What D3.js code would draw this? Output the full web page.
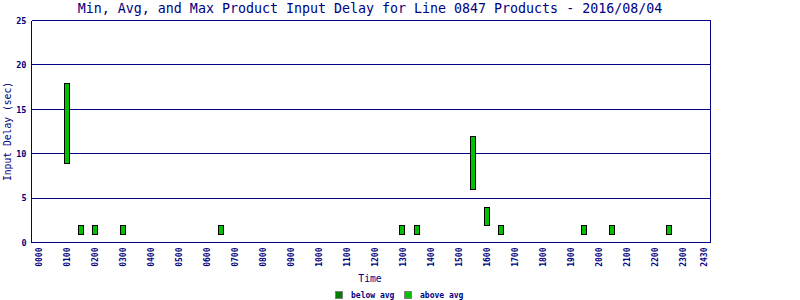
<!DOCTYPE html>
<html>
<head>
<meta charset="utf-8">
<script src="https://cdn.jsdelivr.net/npm/d3@7"></script>
<style>
  body { margin: 0; background: #fff; }
  svg text { font-family: "DejaVu Sans Mono", "Liberation Mono", monospace; fill: #000080; }
</style>
</head>
<body>
<div id="chart"></div>
<script>
/* ===== Data ===== */
const times = [1.0, 1.5, 2.0, 3.0, 6.5, 13.0, 13.5, 15.5, 16.0, 16.5, 19.5, 20.5, 22.5];
const minDelay = [9, 1, 1, 1, 1, 1, 1, 6, 2, 1, 1, 1, 1];
const maxDelay = [18, 2, 2, 2, 2, 2, 2, 12, 4, 2, 2, 2, 2];
const aboveAvg = [true, true, true, true, true, true, true, true, true, true, true, true, true];

const xTickValues = [0, 1, 2, 3, 4, 5, 6, 7, 8, 9, 10, 11, 12, 13, 14, 15, 16, 17, 18, 19, 20, 21, 22, 23, 23.75];
const xTickLabels = ["0000", "0100", "0200", "0300", "0400", "0500", "0600", "0700", "0800", "0900", "1000", "1100",
  "1200", "1300", "1400", "1500", "1600", "1700", "1800", "1900", "2000", "2100", "2200", "2300", "2430"];
const yTicks = [0, 5, 10, 15, 20, 25];

const legendLabels = ["below avg", "above avg"];
const legendColors = ["#008000", "#00c000"];

/* ===== Setup ===== */
const W = 800, H = 300;
const navy = "#000080";

const svg = d3.select("#chart").append("svg")
  .attr("width", W)
  .attr("height", H)
  .attr("shape-rendering", "crispEdges");

const x = d3.scaleLinear().domain([-0.25, 24]).range([31.5, 710.5]);
const y = d3.scaleLinear().domain([0, 25]).range([242.5, 20.5]);

/* ===== Title ===== */
svg.append("text")
  .attr("x", 370)
  .attr("y", 13)
  .attr("text-anchor", "middle")
  .attr("font-size", "13.3px")
  .text("Min, Avg, and Max Product Input Delay for Line 0847 Products - 2016/08/04");

/* ===== Grid + frame ===== */
svg.append("g")
  .selectAll("line")
  .data(yTicks)
  .join("line")
  .attr("x1", x.range()[0])
  .attr("x2", x.range()[1])
  .attr("y1", d => y(d))
  .attr("y2", d => y(d))
  .attr("stroke", navy);

svg.append("line")
  .attr("x1", x.range()[0]).attr("x2", x.range()[0])
  .attr("y1", y(0)).attr("y2", y(25))
  .attr("stroke", navy);
svg.append("line")
  .attr("x1", x.range()[1]).attr("x2", x.range()[1])
  .attr("y1", y(0)).attr("y2", y(25))
  .attr("stroke", navy);

/* ===== Y axis labels ===== */
const yAxis = svg.append("g")
  .attr("transform", `translate(${x.range()[0]},0)`)
  .call(d3.axisLeft(y).tickValues(yTicks).tickSize(0).tickPadding(5));
yAxis.select(".domain").remove();
yAxis.selectAll("text")
  .attr("font-size", "8.5px")
  .attr("font-weight", "bold")
  .style("font-family", "\"DejaVu Sans Mono\", monospace")
  .attr("fill", navy);

svg.append("text")
  .attr("transform", `translate(11,${(y(0) + y(25)) / 2}) rotate(-90)`)
  .attr("text-anchor", "middle")
  .attr("font-size", "9.7px")
  .text("Input Delay (sec)");

/* ===== X axis labels ===== */
const xAxis = svg.append("g")
  .attr("transform", `translate(0,${y(0)})`)
  .call(d3.axisBottom(x).tickValues(xTickValues).tickFormat((d, i) => xTickLabels[i]).tickSize(0));
xAxis.select(".domain").remove();
xAxis.selectAll("text")
  .attr("font-size", "8px")
  .attr("font-weight", "bold")
  .attr("fill", navy)
  .attr("text-anchor", "end")
  .attr("transform", "rotate(-90)")
  .attr("x", -5)
  .attr("y", 0)
  .attr("dy", "0.35em");

svg.append("text")
  .attr("x", 370)
  .attr("y", 282)
  .attr("text-anchor", "middle")
  .attr("font-size", "9.7px")
  .text("Time");

/* ===== Bars ===== */
svg.append("g")
  .selectAll("rect")
  .data(times)
  .join("rect")
  .attr("x", d => Math.round(x(d)) - 2.5)
  .attr("width", 5)
  .attr("y", (d, i) => Math.round(y(maxDelay[i])))
  .attr("height", (d, i) => Math.round(y(minDelay[i])) - Math.round(y(maxDelay[i])))
  .attr("fill", (d, i) => aboveAvg[i] ? legendColors[1] : legendColors[0])
  .attr("stroke", "#000")
  .attr("stroke-width", 1);

/* ===== Legend ===== */
const legendX = [335, 404];
const legend = svg.append("g")
  .selectAll("g")
  .data(legendLabels)
  .join("g")
  .attr("transform", (d, i) => `translate(${legendX[i]},291)`);

legend.append("rect")
  .attr("x", 0.5).attr("y", 0.5)
  .attr("width", 7).attr("height", 7)
  .attr("fill", (d, i) => legendColors[i])
  .attr("stroke", "#808080");

legend.append("text")
  .attr("x", 16)
  .attr("y", 7)
  .attr("font-size", "8px")
  .attr("font-weight", "bold")
  .text(d => d);
</script>
</body>
</html>
